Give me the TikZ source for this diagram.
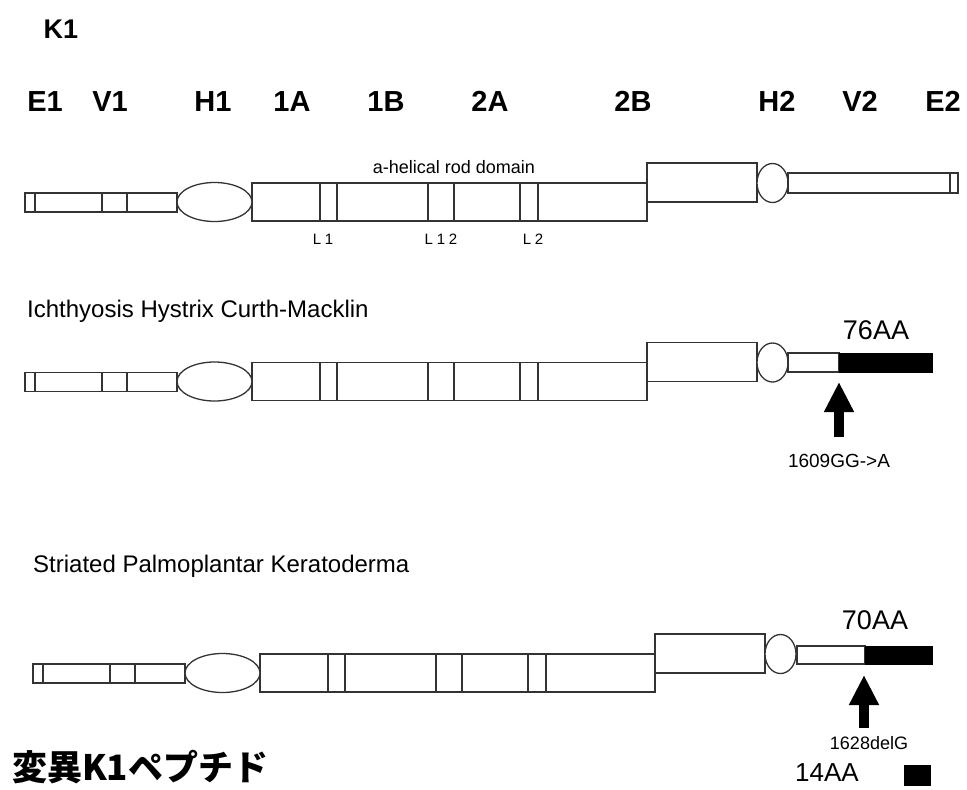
\documentclass[tikz,border=0pt]{standalone}
\usepackage{fontspec}
\setmainfont{Liberation Sans}
\newfontfamily\cjk{Noto Sans CJK JP}
\usetikzlibrary{arrows.meta}
\tikzset{
  part/.style={draw=black!80, line width=1.3pt, fill=white},
  sep/.style={draw=black!80, line width=1.3pt},
  blk/.style={fill=black, draw=black, line width=0.8pt},
  domlab/.style={inner sep=0pt, anchor=base, font=\bfseries\fontsize{29}{29}\selectfont},
  title/.style={inner sep=0pt, anchor=west, font=\fontsize{24}{24}\selectfont},
  small/.style={inner sep=0pt, font=\fontsize{18}{18}\selectfont},
  llab/.style={inner sep=0pt, anchor=base, font=\fontsize{15}{15}\selectfont\addfontfeature{LetterSpace=25}},
  aalab/.style={inner sep=0pt, font=\fontsize{27}{27}\selectfont},
  bigarrow/.style={line width=10pt, -{Triangle[width=28pt,length=30pt]}},
}
\newcommand\kbody{%
  \draw[part] (25,193) rectangle (177,212);
  \draw[sep] (35,193) -- (35,212) (102,193) -- (102,212) (127,193) -- (127,212);
  \draw[part] (252,183) rectangle (647,221);
  \draw[sep] (320,183) -- (320,221) (337,183) -- (337,221)
             (428,183) -- (428,221) (454,183) -- (454,221)
             (520,183) -- (520,221) (538,183) -- (538,221);
  \draw[part] (214.5,202) ellipse [x radius=37.5pt, y radius=19.5pt];
  \draw[part] (647,163) rectangle (757,202);
  \draw[part] (772.5,183) ellipse [x radius=15.5pt, y radius=19.5pt];
}
\begin{document}
\begin{tikzpicture}[x=1pt,y=-1pt]
\useasboundingbox (0,0) rectangle (967,790);
% labels
\node[domlab, font=\bfseries\fontsize{27}{27}\selectfont] (k1) at (61,38) {K1};
\node[domlab] (le1) at (45,111) {E1};
\node[domlab] (lv1) at (110,111) {V1};
\node[domlab] (lh1) at (213,111) {H1};
\node[domlab] (l1a) at (292,111) {1A};
\node[domlab] (l1b) at (386,111) {1B};
\node[domlab] (l2a) at (490,111) {2A};
\node[domlab] (l2b) at (633,111) {2B};
\node[domlab] (lh2) at (777,111) {H2};
\node[domlab] (lv2) at (860,111) {V2};
\node[domlab] (le2) at (943,111) {E2};
% row 1
\kbody
\draw[part] (788,173) rectangle (958,193);
\draw[sep] (950,173) -- (950,193);
\node[small] (rod) at (454,167) {a-helical rod domain};
\node[llab] (L1) at (323,244) {L1};
\node[llab] (L12) at (441,244) {L12};
\node[llab] (L2) at (533,244) {L2};
% row 2
\node[title] (t2) at (27,311) {Ichthyosis Hystrix Curth-Macklin};
\begin{scope}[shift={(0,179.5)}]
\kbody
\end{scope}
\draw[part] (788,353) rectangle (839,372);
\draw[blk] (839,353) rectangle (932,372);
\node[aalab] (aa76) at (876,330) {76AA};
\coordinate (tipA) at (839,382);
\coordinate (tailA) at (839,437);
\draw[bigarrow] (tailA) -- (tipA);
\node[small, font=\fontsize{19}{19}\selectfont] (mutA) at (839,461) {1609GG->A};
% row 3
\node[title] (t3) at (33,566) {Striated Palmoplantar Keratoderma};
\begin{scope}[shift={(8,471)}]
\kbody
\end{scope}
\draw[part] (797,646) rectangle (865,664);
\draw[blk] (865,646) rectangle (932,664);
\node[aalab] (aa70) at (875,620) {70AA};
\coordinate (tipB) at (864,675);
\coordinate (tailB) at (864,728);
\draw[bigarrow] (tailB) -- (tipB);
\node[small] (mutB) at (869,743) {1628delG};
\node[aalab, font=\fontsize{26}{26}\selectfont] (aa14) at (827,773) {14AA};
\draw[blk] (904,765) rectangle (930,785);
\node[inner sep=0pt, anchor=west, font=\cjk\bfseries\fontsize{35}{35}\selectfont] (jp) at (12,767) {変異K1ペプチド};
\end{tikzpicture}
\end{document}
